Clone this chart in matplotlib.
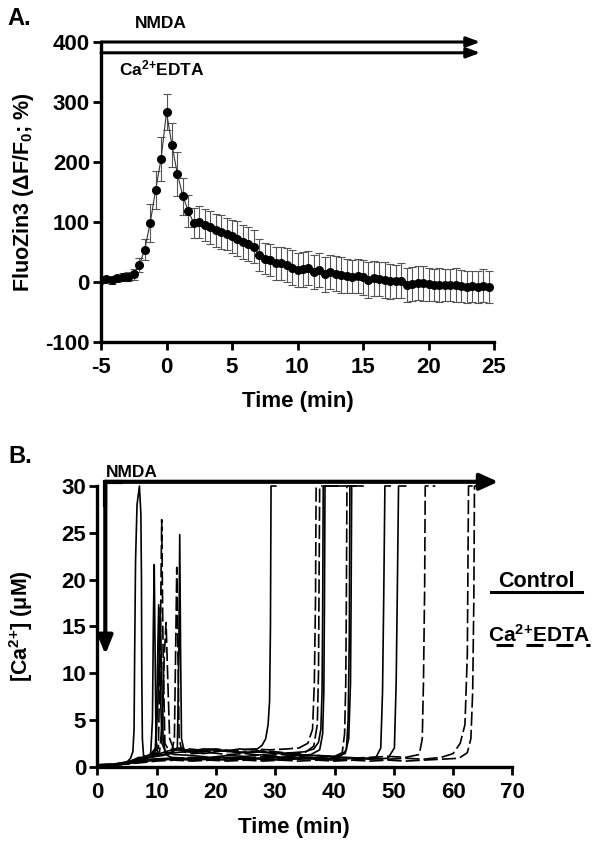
import numpy as np
import matplotlib
matplotlib.use("Agg")
import matplotlib.pyplot as plt
from matplotlib.lines import Line2D

plt.rcParams.update({
    "font.family": ["Liberation Sans", "DejaVu Sans"],
    "font.weight": "bold",
    "mathtext.fontset": "custom",
    "mathtext.rm": "Liberation Sans:bold",
    "mathtext.bf": "Liberation Sans:bold",
    "mathtext.default": "bf",
    "axes.unicode_minus": False,
})

# ---- panel A: FluoZin3 mean +/- SEM, one sample every 25 s ----
time_a = -5 + np.arange(72) * 5 / 12
fluozin_mean = [3, 5, 3, 6, 8, 9, 13, 28, 54, 98, 153, 205,
                283,
                228, 180, 143, 118, 98, 100, 95, 91,
                86, 83, 80, 76, 72, 67, 63,
                59, 45, 39, 37, 31, 31, 28, 24, 20, 21,
                23, 17, 20, 13, 17, 14, 12, 10, 9, 10,
                8, 3, 6, 5, 3, 1, 1, 2, -5, -3,
                -2, -2, -4, -5, -5, -5, -5, -5, -7, -8,
                -7, -8, -6, -8]
fluozin_sem = [5, 5, 6, 6, 7, 8, 9, 12, 18, 32, 32, 36,
               30,
               37, 37, 31, 27, 25, 26, 27, 27,
               28, 28, 27, 28, 29, 28, 28, 28, 27, 26,
               27, 28, 27, 28, 29, 28, 29, 28, 28, 29,
               29, 28, 29, 30, 29, 28, 29, 29, 30, 29,
               29, 30, 29, 28, 29, 29, 28, 28, 29, 28,
               27, 28, 27, 27, 28, 27, 27, 26, 27, 27, 27]

# ---- panel B: single-cell [Ca2+] traces (min, uM) ----
t_c1 = [0, 2, 4, 5, 5.6, 6.0, 6.2, 6.3, 6.45, 6.7, 7.1, 7.35, 7.45, 7.5, 7.6, 7.8, 8.5, 10, 12, 14,
        16, 18, 20, 22, 24, 26, 27, 27.8, 28.4, 28.8, 29.05, 29.2, 29.3, 30.1]
y_c1 = [0.2, 0.2, 0.3, 0.5, 0.9, 1.6, 4, 12, 22, 28, 30, 27, 20, 10, 3, 1.2, 1.0, 1.3, 1.7, 1.8,
        1.7, 1.9, 1.8, 1.7, 1.9, 1.8, 1.9, 2.3, 3.0, 4.5, 7, 15, 30, 30]
t_c2 = [0, 3, 5, 6, 7, 8, 9, 9.3, 9.45, 9.6, 9.75, 9.9, 10.2, 11, 13, 15, 18, 21, 24, 27,
        30, 33, 35, 36.5, 37.3, 37.7, 37.9, 38.0, 38.1, 40.5]
y_c2 = [0.2, 0.2, 0.4, 0.7, 1.0, 0.9, 1.4, 5, 15, 21.6, 12, 3, 1.4, 1.2, 1.5, 1.6, 1.4, 1.7, 1.5, 1.6,
        1.4, 1.5, 1.6, 1.9, 2.6, 4, 8, 16, 30, 30]
t_c3 = [0, 3, 5, 6.5, 8, 9, 9.8, 10.1, 10.35, 10.6, 10.9, 11.5, 13, 16, 19, 22, 25, 28, 31, 34,
        36, 37.5, 38.0, 38.2, 38.3, 38.4, 44.8]
y_c3 = [0.2, 0.3, 0.5, 0.8, 1.1, 1.3, 2, 9, 17.3, 9, 2.5, 1.6, 1.3, 1.2, 1.0, 1.2, 1.1, 1.3, 1.0, 1.2,
        1.3, 1.8, 3.5, 8, 17, 30, 30]
t_c4 = [0, 3, 5, 7, 8.5, 9.8, 10.3, 10.6, 10.85, 11.1, 11.5, 12.5, 15, 18, 21, 24, 27, 30, 33, 36,
        39, 41, 42.0, 42.3, 42.5, 42.6, 43.4]
y_c4 = [0.2, 0.2, 0.4, 0.6, 0.9, 1.5, 8, 17, 10, 3, 1.3, 1.0, 0.9, 1.0, 0.8, 1.0, 0.9, 1.0, 0.8, 1.0,
        0.9, 1.1, 1.8, 5, 14, 30, 30]
t_c5 = [0, 3, 5, 7, 9, 11, 12.5, 13.5, 13.75, 13.9, 14.05, 14.2, 14.6, 16, 19, 22, 25, 28, 31, 34,
        37, 40, 41.8, 42.4, 42.7, 42.8, 42.9, 43.6]
y_c5 = [0.2, 0.2, 0.3, 0.7, 1.0, 1.3, 1.5, 2, 12, 24.8, 12, 3, 1.8, 1.6, 1.8, 1.7, 1.5, 1.6, 1.4, 1.3,
        1.2, 1.1, 1.4, 3, 9, 18, 30, 30]
t_c6 = [0, 3, 5, 7, 9, 12, 15, 18, 21, 24, 27, 30, 33, 36, 39, 42, 45, 47, 47.8, 48.1, 48.3, 48.5, 49.4]
y_c6 = [0.2, 0.2, 0.3, 0.6, 0.8, 0.9, 0.8, 0.9, 1.0, 0.8, 0.9, 0.8, 1.0, 0.9, 0.8, 1.0, 0.9, 1.0,
        2, 8, 18, 30, 30]
t_c7 = [0, 3, 5, 7, 10, 13, 16, 19, 22, 25, 28, 31, 34, 37, 40, 43, 46, 49, 50.1, 50.4, 50.6, 50.8, 52.0]
y_c7 = [0.2, 0.2, 0.3, 0.5, 0.7, 0.8, 0.7, 0.8, 0.7, 0.9, 0.8, 0.7, 0.9, 0.8, 0.7, 0.9, 0.8, 0.9,
        2, 9, 19, 30, 30]

t_d1 = [0, 3, 5, 7, 9, 10.3, 10.6, 10.86, 11.1, 11.4, 12, 14, 17, 20, 23, 26, 29, 32, 34, 35.5,
        36.3, 36.6, 36.8, 36.9, 37.3]
y_d1 = [0.2, 0.2, 0.4, 0.8, 1.2, 2, 12, 26.4, 12, 2.5, 1.8, 2.0, 1.8, 1.9, 1.7, 1.9, 1.8, 1.9, 2.0, 2.5,
        4, 9, 18, 30, 30]
t_d2 = [0, 3, 5, 7, 9, 10.5, 11.0, 11.3, 11.6, 11.9, 12.2, 13, 15, 18, 21, 24, 27, 30, 33, 35,
        36.5, 37.1, 37.3, 37.4, 37.5, 38.0]
y_d2 = [0.2, 0.3, 0.5, 0.7, 1.1, 1.6, 5, 12, 15.4, 9, 3, 1.7, 1.8, 1.6, 1.7, 1.5, 1.7, 1.6, 1.4, 1.5,
        2.2, 4.5, 10, 20, 30, 30]
t_d3 = [0, 3, 5, 7, 9, 11, 12.5, 13.0, 13.2, 13.4, 13.6, 13.8, 14.3, 16, 19, 22, 25, 28, 31, 34,
        37, 40, 41.3, 41.7, 41.9, 42.0, 42.1, 42.6]
y_d3 = [0.2, 0.2, 0.4, 0.6, 1.0, 1.2, 1.5, 3, 12, 21.3, 12, 3, 1.6, 1.4, 1.5, 1.3, 1.4, 1.2, 1.3, 1.1,
        1.2, 1.1, 1.5, 3.5, 9, 18, 30, 30]
t_d4 = [0, 3, 5, 7, 10, 13, 16, 19, 22, 25, 28, 31, 34, 37, 40, 43, 46, 49, 52, 54.3,
        54.8, 55.0, 55.2, 55.3, 57.0]
y_d4 = [0.2, 0.2, 0.3, 0.6, 0.8, 0.9, 1.0, 0.9, 1.0, 0.9, 1.1, 1.0, 0.9, 1.0, 1.1, 0.9, 1.0, 1.1, 1.0, 1.3,
        3, 9, 19, 30, 30]
t_d5 = [0, 3, 5, 7, 10, 13, 16, 19, 22, 25, 28, 31, 34, 37, 40, 43, 46, 49, 52, 55,
        58, 60, 61.2, 62.0, 62.4, 62.6, 63.3]
y_d5 = [0.2, 0.2, 0.3, 0.5, 0.7, 0.8, 0.7, 0.8, 0.9, 0.8, 0.7, 0.9, 0.8, 0.9, 0.8, 0.7, 0.9, 0.8, 0.9, 0.8,
        1.0, 1.4, 2.5, 4.5, 12, 30, 30]
t_d6 = [0, 3, 5, 7, 10, 13, 16, 19, 22, 25, 28, 31, 34, 37, 40, 43, 46, 49, 52, 55,
        58, 61, 62.4, 63.0, 63.3, 63.5, 63.6, 64.0]
y_d6 = [0.2, 0.2, 0.3, 0.4, 0.6, 0.7, 0.6, 0.7, 0.6, 0.7, 0.6, 0.7, 0.6, 0.7, 0.6, 0.7, 0.6, 0.7, 0.6, 0.7,
        0.8, 0.9, 1.5, 3, 8, 18, 30, 30]

control_traces = [(t_c1, y_c1), (t_c2, y_c2), (t_c3, y_c3), (t_c4, y_c4),
                  (t_c5, y_c5), (t_c6, y_c6), (t_c7, y_c7)]
edta_traces = [(t_d1, y_d1), (t_d2, y_d2), (t_d3, y_d3),
               (t_d4, y_d4), (t_d5, y_d5), (t_d6, y_d6)]

CA_EDTA = "Ca$^{2{+}}$EDTA"

W, H = 600, 841
fig = plt.figure(figsize=(6, 8.41), dpi=100)


def fx(px):
    return px / W


def fy(py):
    return 1 - py / H


def style_axes(ax):
    for s in ["top", "right"]:
        ax.spines[s].set_visible(False)
    for s in ["left", "bottom"]:
        ax.spines[s].set_linewidth(2.4)
    ax.tick_params(direction="out", length=5.5, width=2, labelsize=16)
    ax.tick_params(axis="x", pad=5.5)
    ax.tick_params(axis="y", pad=2.5)
    for lab in ax.get_xticklabels() + ax.get_yticklabels():
        lab.set_fontweight("bold")


# ---------------- panel A ----------------
axA = fig.add_axes([fx(101), fy(342), fx(494) - fx(101), fy(42) - fy(342)])
axA.errorbar(time_a, fluozin_mean, yerr=fluozin_sem, fmt="none", ecolor="#555555",
             elinewidth=0.8, capsize=3, capthick=0.8)
axA.plot(time_a, fluozin_mean, "-", color="#333333", lw=0.8)
axA.plot(time_a, fluozin_mean, "o", color="k", ms=5.5, zorder=5)
axA.set_xlim(-5, 25)
axA.set_ylim(-100, 400)
axA.set_xticks([-5, 0, 5, 10, 15, 20, 25])
axA.set_yticks([-100, 0, 100, 200, 300, 400])
style_axes(axA)
axA.set_xlabel("Time (min)", fontsize=16, fontweight="bold")
axA.xaxis.set_label_coords(0.5, -0.163)
axA.set_ylabel("FluoZin3 (ΔF/F$_0$; %)", fontsize=15.5, fontweight="bold")
axA.yaxis.set_label_coords(-0.165, 0.5)

for yv in [400, 382]:
    axA.annotate("", xy=(23.95, yv), xytext=(-5, yv), annotation_clip=False,
                 arrowprops=dict(arrowstyle="-|>,head_length=0.8,head_width=0.3",
                                 lw=2.2, color="k", shrinkA=0, shrinkB=0))
fig.text(fx(135), fy(28), "NMDA", fontsize=12.5, fontweight="bold", va="baseline")
fig.text(fx(119), fy(75), CA_EDTA, fontsize=12.5, fontweight="bold", va="baseline")
fig.text(fx(7), fy(25), "A.", fontsize=17, fontweight="bold", va="baseline")

# ---------------- panel B ----------------
axB = fig.add_axes([fx(97.3), fy(766.7), fx(512.4) - fx(97.3), fy(486) - fy(766.7)])
for t, y in control_traces:
    axB.plot(t, y, "-", color="k", lw=1.2, clip_on=False)
for t, y in edta_traces:
    axB.plot(t, y, color="k", lw=1.2, linestyle=(0, (8.5, 2.4)), clip_on=False)
axB.set_xlim(0, 70)
axB.set_ylim(0, 30)
axB.set_xticks(range(0, 71, 10))
axB.set_yticks(range(0, 31, 5))
style_axes(axB)
axB.set_xlabel("Time (min)", fontsize=16, fontweight="bold")
axB.xaxis.set_label_coords(0.474, -0.178)
axB.set_ylabel("[Ca$^{2{+}}$] (μM)", fontsize=15.5, fontweight="bold")
axB.yaxis.set_label_coords(-0.150, 0.5)

axB.plot([1.35, 1.35, 4], [28, 30.45, 30.45], color="k", lw=3,
         solid_joinstyle="miter", clip_on=False)
axB.annotate("", xy=(67.6, 30.45), xytext=(1.35, 30.45), annotation_clip=False,
             arrowprops=dict(arrowstyle="-|>,head_length=1.1,head_width=0.5",
                             lw=3, color="k", shrinkA=0, shrinkB=0))
axB.annotate("", xy=(1.35, 12.0), xytext=(1.35, 30.45), annotation_clip=False,
             arrowprops=dict(arrowstyle="-|>,head_length=1.1,head_width=0.45",
                             lw=3, color="k", shrinkA=0, shrinkB=0))
fig.text(fx(106), fy(477), "NMDA", fontsize=12.5, fontweight="bold", va="baseline")
fig.text(fx(8), fy(463), "B.", fontsize=17, fontweight="bold", va="baseline")

# legend for panel B
fig.text(fx(498), fy(586.7), "Control", fontsize=15.5, fontweight="bold", va="baseline")
fig.add_artist(Line2D([fx(490.7), fx(581.7)], [fy(591.7)] * 2, lw=2.2, color="k",
                      transform=fig.transFigure))
fig.text(fx(488), fy(641.7), CA_EDTA, fontsize=15, fontweight="bold", va="baseline")
fig.add_artist(Line2D([fx(496), fx(590)], [fy(645)] * 2, lw=2.2, color="k",
                      linestyle=(0, (5.6, 4.2)), transform=fig.transFigure))

fig.savefig("out.png", dpi=100)
